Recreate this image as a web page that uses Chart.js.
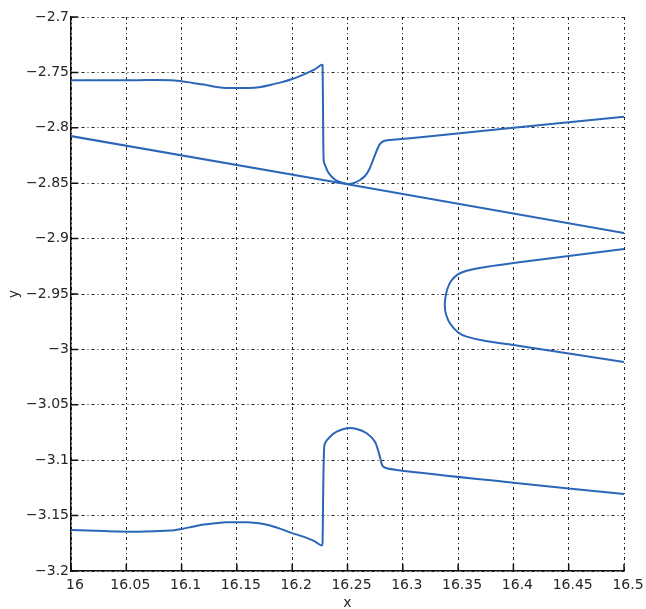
<!DOCTYPE html>
<html>
<head>
<meta charset="utf-8">
<script src="https://cdn.jsdelivr.net/npm/chart.js@4.4.1/dist/chart.umd.min.js"></script>
<style>
  html, body { margin: 0; padding: 0; background: #fff; }
  #wrap { width: 646px; height: 609px; position: relative; }
</style>
</head>
<body>
<div id="wrap"><canvas id="curveChart"></canvas></div>
<script>
// Upper branch (dip, spike, U-bend)
const upperX = [16, 16.03, 16.06, 16.09, 16.1, 16.11, 16.12, 16.13, 16.14, 16.15, 16.16, 16.17, 16.18, 16.19, 16.2, 16.21, 16.22, 16.227,
  16.2275, 16.228, 16.2285, 16.2297, 16.2324, 16.236, 16.2405, 16.2459, 16.2505, 16.2559, 16.2613, 16.2658, 16.2694, 16.2731, 16.2767, 16.2794, 16.283, 16.2884, 16.325, 16.4, 16.5];
const upperY = [-2.757, -2.757, -2.757, -2.757, -2.758, -2.7595, -2.761, -2.763, -2.764, -2.764, -2.764, -2.7633, -2.7613, -2.759, -2.756, -2.752, -2.7475, -2.743,
  -2.746, -2.80, -2.830, -2.8336, -2.8399, -2.8444, -2.848, -2.8498, -2.8507, -2.8498, -2.8471, -2.8435, -2.8381, -2.8291, -2.82, -2.8146, -2.8119, -2.811, -2.8077, -2.800, -2.790];

// Straight descending line
const diagX = [16, 16.25, 16.5];
const diagY = [-2.8075, -2.851, -2.895];

// C-shaped curve on the right
const loopX = [16.5, 16.45, 16.4, 16.375, 16.3577, 16.3495, 16.3435, 16.3403, 16.3385, 16.338, 16.3391, 16.3426, 16.3501, 16.3577, 16.375, 16.4, 16.45, 16.5];
const loopY = [-2.9094, -2.9157, -2.922, -2.9256, -2.929, -2.9325, -2.9385, -2.9455, -2.9535, -2.961, -2.9685, -2.9764, -2.9848, -2.9885, -2.9925, -2.996, -3.0037, -3.0114];

// Lower branch (bump, drop, hump)
const lowerX = [16, 16.03, 16.06, 16.09, 16.1, 16.11, 16.12, 16.13, 16.14, 16.15, 16.16, 16.17, 16.18, 16.19, 16.2, 16.21, 16.22, 16.2267,
  16.2275, 16.228, 16.2288, 16.2297, 16.2342, 16.2402, 16.2492, 16.2583, 16.2673, 16.2748, 16.2793, 16.2823, 16.2944, 16.4, 16.5];
const lowerY = [-3.163, -3.164, -3.1645, -3.1635, -3.162, -3.160, -3.158, -3.157, -3.156, -3.156, -3.156, -3.157, -3.159, -3.1622, -3.1658, -3.169, -3.173, -3.177,
  -3.170, -3.13, -3.090, -3.0845, -3.0788, -3.0743, -3.0712, -3.0718, -3.0757, -3.0833, -3.0968, -3.1058, -3.1088, -3.1203, -3.1305];

// Axis ticks and labels
const xTicks = [16, 16.05, 16.1, 16.15, 16.2, 16.25, 16.3, 16.35, 16.4, 16.45, 16.5];
const xTickLabels = ['16', '16.05', '16.1', '16.15', '16.2', '16.25', '16.3', '16.35', '16.4', '16.45', '16.5'];
const yTicks = [-2.7, -2.75, -2.8, -2.85, -2.9, -2.95, -3, -3.05, -3.1, -3.15, -3.2];
const yTickLabels = ['\u22122.7', '\u22122.75', '\u22122.8', '\u22122.85', '\u22122.9', '\u22122.95', '\u22123', '\u22123.05', '\u22123.1', '\u22123.15', '\u22123.2'];

const lineColor = '#2b66b8';
const font = { family: '"DejaVu Sans", sans-serif', size: 14 };

function toPoints(xs, ys) {
    return xs.map((x, i) => ({ x: x, y: ys[i] }));
}

function series(xs, ys, tension) {
    return {
        data: toPoints(xs, ys),
        showLine: true,
        borderColor: lineColor,
        borderWidth: 2,
        pointRadius: 0,
        tension: tension,
        fill: false
    };
}

// Short solid tick marks pointing into the plot
const innerTicks = {
    id: 'innerTicks',
    beforeDatasetsDraw(chart) {
        const { ctx, chartArea, scales } = chart;
        ctx.save();
        ctx.strokeStyle = '#111';
        ctx.lineWidth = 1.5;
        ctx.beginPath();
        xTicks.forEach(v => {
            const px = scales.x.getPixelForValue(v);
            ctx.moveTo(px, chartArea.bottom);
            ctx.lineTo(px, chartArea.bottom - 7);
        });
        yTicks.forEach(v => {
            const py = scales.y.getPixelForValue(v);
            ctx.moveTo(chartArea.left, py);
            ctx.lineTo(chartArea.left + 7, py);
        });
        ctx.stroke();
        ctx.restore();
    }
};

document.addEventListener('DOMContentLoaded', () => {
    const ctx = document.getElementById('curveChart').getContext('2d');
    new Chart(ctx, {
        type: 'scatter',
        data: {
            datasets: [
                series(diagX, diagY, 0),
                series(loopX, loopY, 0.3),
                series(upperX, upperY, 0.3),
                series(lowerX, lowerY, 0.3)
            ]
        },
        options: {
            responsive: true,
            maintainAspectRatio: false,
            animation: false,
            layout: { padding: { top: 17, right: 22, left: 0, bottom: 0 } },
            plugins: {
                legend: { display: false },
                tooltip: { enabled: false }
            },
            scales: {
                x: {
                    type: 'linear',
                    min: 16,
                    max: 16.5,
                    afterBuildTicks: scale => { scale.ticks = xTicks.map(v => ({ value: v })); },
                    afterFit: scale => { scale.height = 38; },
                    ticks: {
                        callback: (v, i) => xTickLabels[i],
                        autoSkip: false,
                        maxRotation: 0,
                        padding: 6,
                        labelOffset: 4,
                        color: '#262626',
                        font: font
                    },
                    grid: { color: '#222', lineWidth: 1, drawTicks: false },
                    border: { display: true, color: '#111', width: 1.5, dash: [3, 3, 1, 3] },
                    title: { display: true, text: 'x', color: '#262626', font: { family: font.family, size: 14, lineHeight: 1 }, padding: { top: 0, bottom: -1 } }
                },
                y: {
                    type: 'linear',
                    min: -3.2,
                    max: -2.7,
                    afterBuildTicks: scale => { scale.ticks = yTicks.map(v => ({ value: v })); },
                    afterFit: scale => { scale.width = 71; },
                    ticks: {
                        callback: (v, i) => yTickLabels[i],
                        autoSkip: false,
                        padding: 2,
                        color: '#262626',
                        font: font
                    },
                    grid: { color: '#222', lineWidth: 1, drawTicks: false },
                    border: { display: true, color: '#111', width: 1.5, dash: [3, 3, 1, 3] },
                    title: { display: true, text: 'y', color: '#262626', font: { family: font.family, size: 14 }, padding: { top: 6, bottom: 0 } }
                }
            }
        },
        plugins: [innerTicks]
    });
});
</script>
</body>
</html>
